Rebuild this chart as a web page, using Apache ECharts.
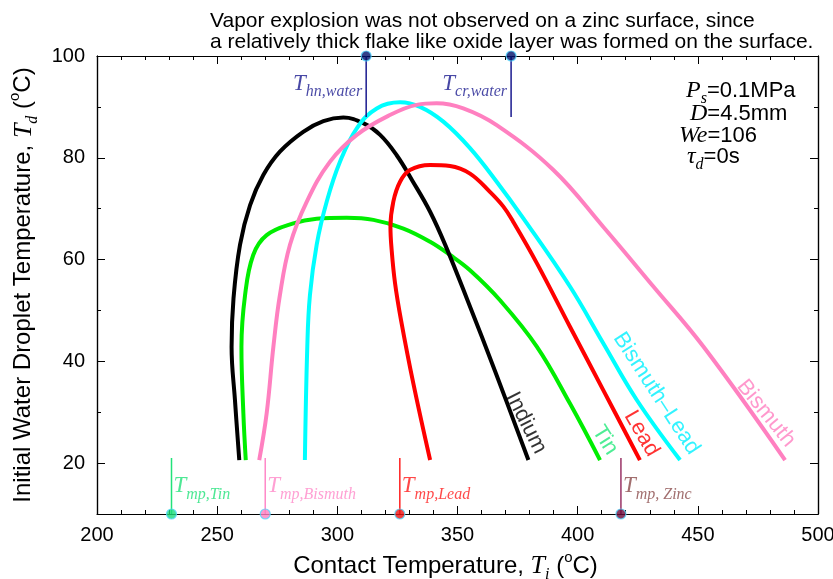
<!DOCTYPE html>
<html>
<head>
<meta charset="utf-8">
<script src="https://cdn.jsdelivr.net/npm/echarts@6/dist/echarts.min.js"></script>
<style>html,body{margin:0;background:#fff}#chart{width:833px;height:579px}</style>
</head>
<body>
<div id="chart"></div>
<script>
const sans = 'Liberation Sans';
const serif = 'Liberation Serif';

// curves: contact temperature (x) vs initial droplet temperature (y)
const indiumT = [259.2, 257.4, 256.0, 256.8, 259.5, 263.7, 269.2, 276.1, 285.8, 294.2, 302.5, 310.8, 317.8, 324.7, 331.1, 338.6, 345.5, 354.0, 366.0, 379.5];
const indiumD = [20.6, 32.4, 42.8, 52.4, 62.9, 70.7, 76.6, 81.2, 85.1, 87.2, 87.9, 86.8, 84.5, 80.5, 75.6, 69.4, 62.2, 52.2, 37.6, 20.6];
const tinT = [261.9, 260.9, 260.1, 261.6, 265.0, 270.6, 281.7, 291.4, 303.9, 315.0, 327.5, 338.6, 346.9, 355.2, 367.7, 383.0, 396.8, 409.3];
const tinD = [20.6, 29.8, 42.8, 53.0, 60.9, 64.8, 67.1, 68.0, 68.2, 67.8, 66.1, 63.5, 60.9, 57.9, 52.0, 42.9, 31.7, 20.6];
const leadT = [338.6, 331.6, 326.5, 324.0, 322.6, 322.1, 323.3, 326.1, 330.2, 338.6, 346.9, 355.2, 363.5, 369.1, 373.2, 383.0, 396.8, 410.7, 425.9];
const leadD = [20.6, 35.7, 48.1, 55.4, 61.9, 66.4, 71.4, 75.3, 77.6, 78.6, 78.4, 76.9, 73.3, 70.4, 67.4, 59.3, 46.8, 34.3, 20.6];
const biLeadT = [286.5, 287.5, 288.6, 291.4, 295.6, 301.1, 308.1, 316.4, 326.1, 334.4, 344.1, 355.2, 366.3, 377.4, 396.8, 410.7, 424.6, 442.6];
const biLeadD = [20.6, 42.9, 53.0, 62.9, 71.4, 79.2, 85.8, 89.7, 90.9, 90.0, 87.1, 81.9, 75.3, 68.1, 54.7, 43.5, 32.4, 20.6];
const bismuthT = [267.5, 270.6, 273.4, 276.1, 280.3, 287.3, 296.9, 308.1, 321.9, 333.0, 341.3, 352.4, 366.3, 389.9, 410.7, 431.5, 452.3, 486.3];
const bismuthD = [20.6, 29.8, 42.9, 53.0, 62.9, 71.4, 79.2, 84.5, 88.4, 90.4, 90.7, 89.7, 86.4, 77.6, 66.4, 54.7, 42.9, 20.6];

// curve name labels (position in data coords, angle)
const curveNames = ['Indium', 'Tin', 'Lead', 'Bismuth\u2013Lead', 'Bismuth'];
const curveColors = ['#000000', '#00ee00', '#ff0000', '#00ffff', '#ff80c0'];
const nameColors = ['#000000', '#22e87a', '#ff0000', '#00f0ff', '#ff80c0'];
const nameT = [378.5, 411.4, 426.6, 432.8, 478.4];
const nameD = [27.9, 24.5, 25.8, 33.7, 29.8];
const nameRot = [-63, -58, -60, -57, -51];

// melting points at the bottom
const meltSubs = ['mp,Tin', 'mp,Bismuth', 'mp,Lead', 'mp, Zinc'];
const meltTemps = [231, 270, 326, 418];
const meltLineColors = ['#22e27a', '#ff88c8', '#ff2020', '#993366'];
const meltTextColors = ['#22e27a', '#ff88c8', '#ff1a1a', '#8a4a4a'];
const meltDotColors = ['#1ddc7a', '#ff80c0', '#ee1111', '#6a0a3a'];
const meltTop = 21;
const meltLabelD = 15;

// water temperatures at the top
const waterSubs = ['hn,water', 'cr,water'];
const waterTemps = [312, 372.3];
const waterBottom = 88;
const waterLabelD = 94.1;
const waterColor = '#1a1a8f';

const yMajor = [20, 40, 60, 80, 100];
const yMinor = [30, 50, 70, 90];

function symRich(color, size, subSize, drop) {
    return {
        T: {fontFamily: serif, fontStyle: 'italic', fontSize: size, color: color, verticalAlign: 'top'},
        s: {fontFamily: serif, fontStyle: 'italic', fontSize: subSize, color: color, verticalAlign: 'top', padding: [drop, 0, 0, 0]}
    };
}

const nameRich = {
    n: {fontFamily: sans, fontSize: 24, color: '#000', verticalAlign: 'top', padding: [4, 0, 0, 0]},
    i: {fontFamily: serif, fontStyle: 'italic', fontSize: 26, color: '#000', verticalAlign: 'top', padding: [3, 0, 0, 0]},
    s: {fontFamily: serif, fontStyle: 'italic', fontSize: 16, color: '#000', verticalAlign: 'top', padding: [17, 0, 0, 0]},
    o: {fontFamily: sans, fontSize: 15, color: '#000', verticalAlign: 'top', padding: [0, 0, 0, 0]}
};

function zip(a, b) {
    return a.map((v, i) => [v, b[i]]);
}

function curve(name, xs, ys, color) {
    return {
        name: name,
        type: 'line',
        data: zip(xs, ys),
        smooth: 0.4,
        showSymbol: false,
        symbol: 'none',
        lineStyle: {color: color, width: 4},
        z: 3
    };
}

const series = [
    curve('Tin', tinT, tinD, curveColors[1]),
    curve('Indium', indiumT, indiumD, curveColors[0]),
    curve('Lead', leadT, leadD, curveColors[2]),
    curve('Bismuth-Lead', biLeadT, biLeadD, curveColors[3]),
    curve('Bismuth', bismuthT, bismuthD, curveColors[4])
];

// curve name labels
series.push({
    type: 'scatter',
    symbolSize: 0,
    silent: true,
    data: curveNames.map((n, i) => ({
        value: [nameT[i], nameD[i]],
        label: {
            show: true,
            position: 'inside',
            formatter: n,
            rotate: nameRot[i],
            color: nameColors[i],
            fontFamily: sans,
            fontSize: 22
        }
    })),
    z: 5
});

// melting point markers
meltTemps.forEach((t, i) => {
    series.push({
        type: 'line',
        data: [[t, 10], [t, meltTop]],
        symbol: 'none',
        lineStyle: {color: meltLineColors[i], width: 1.5},
        z: 4
    });
});
series.push({
    type: 'scatter',
    symbolSize: 0,
    silent: true,
    data: meltTemps.map((t, i) => ({
        value: [t, meltLabelD],
        label: {
            show: true,
            position: 'right',
            distance: 2,
            formatter: '{T|T}{s|' + meltSubs[i] + '}',
            rich: symRich(meltTextColors[i], 23, 16, 12)
        }
    })),
    z: 5
});
series.push({
    type: 'scatter',
    symbolSize: 10,
    clip: false,
    data: meltTemps.map((t, i) => ({
        value: [t, 10],
        itemStyle: {color: meltDotColors[i], borderColor: '#55d8ff', borderWidth: 1.2}
    })),
    z: 10
});

// water temperature markers
waterTemps.forEach((t) => {
    series.push({
        type: 'line',
        data: [[t, 100], [t, waterBottom]],
        symbol: 'none',
        lineStyle: {color: waterColor, width: 1.5},
        z: 4
    });
});
series.push({
    type: 'scatter',
    symbolSize: 0,
    silent: true,
    data: waterTemps.map((t, i) => ({
        value: [t, waterLabelD],
        label: {
            show: true,
            position: 'left',
            distance: 4,
            formatter: '{T|T}{s|' + waterSubs[i] + '}',
            rich: symRich(waterColor, 23, 16, 12)
        }
    })),
    z: 5
});
series.push({
    type: 'scatter',
    symbolSize: 10,
    clip: false,
    data: waterTemps.map((t) => ({
        value: [t, 100],
        itemStyle: {color: '#00106a', borderColor: '#55d8ff', borderWidth: 1.2}
    })),
    z: 10
});

const axisLine = {show: true, lineStyle: {color: '#000', width: 1.2}};

function xAxis(pos, showLabel) {
    return {
        type: 'value',
        position: pos,
        min: 200,
        max: 500,
        interval: 50,
        axisLine: axisLine,
        axisTick: {inside: true, length: 8, lineStyle: {color: '#000'}},
        minorTick: {show: true, splitNumber: 5, length: 4, lineStyle: {color: '#000'}},
        axisLabel: {show: showLabel, fontFamily: sans, fontSize: 20, color: '#000', margin: 11},
        splitLine: {show: false},
        minorSplitLine: {show: false}
    };
}

function yAxis(pos, ticks, len, showLabel) {
    return {
        type: 'value',
        position: pos,
        min: 10,
        max: 100,
        axisLine: axisLine,
        axisTick: {inside: true, length: len, customValues: ticks, lineStyle: {color: '#000'}},
        axisLabel: {show: showLabel, customValues: yMajor, fontFamily: sans, fontSize: 20, color: '#000', margin: 12},
        splitLine: {show: false}
    };
}

const xMain = xAxis('bottom', true);
xMain.name = '{n|Contact Temperature, }{i|T}{s|i}{n| (}{o|o}{n|C)}';
xMain.nameLocation = 'middle';
xMain.nameGap = 31;
xMain.nameTextStyle = {rich: nameRich, padding: [0, 24, 0, 0]};

const yMain = yAxis('left', yMajor, 8, true);
yMain.name = '{n|Initial Water Droplet Temperature, }{i|T}{s|d}{n| (}{o|o}{n|C)}';
yMain.nameLocation = 'middle';
yMain.nameGap = 47;
yMain.nameTextStyle = {rich: nameRich};

const chart = echarts.init(document.getElementById('chart'));

chart.setOption({
    backgroundColor: '#fff',
    animation: false,
    title: {
        text: 'Vapor explosion was not observed on a zinc surface, since\na relatively thick flake like oxide layer was formed on the surface.',
        left: 205,
        top: 6,
        textStyle: {fontFamily: sans, fontSize: 21, fontWeight: 'normal', color: '#000', lineHeight: 21}
    },
    grid: {left: 97, right: 15, top: 56, bottom: 65, containLabel: false, outerBoundsMode: 'none'},
    xAxis: [xMain, xAxis('top', false)],
    yAxis: [
        yMain,
        yAxis('left', yMinor, 4, false),
        yAxis('right', yMajor, 8, false),
        yAxis('right', yMinor, 4, false)
    ],
    graphic: [
        {type: 'text', left: 686, top: 79, style: {
            text: '{v|P}{s|s}{n|=0.1MPa}',
            rich: {
                v: {fontFamily: serif, fontStyle: 'italic', fontSize: 24, verticalAlign: 'top'},
                s: {fontFamily: serif, fontStyle: 'italic', fontSize: 16, verticalAlign: 'top', padding: [12, 0, 0, 0]},
                n: {fontFamily: sans, fontSize: 22, verticalAlign: 'top', padding: [1, 0, 0, 0]}
            }
        }},
        {type: 'text', left: 690, top: 102, style: {
            text: '{v|D}{n|=4.5mm}',
            rich: {
                v: {fontFamily: serif, fontStyle: 'italic', fontSize: 24, verticalAlign: 'top'},
                n: {fontFamily: sans, fontSize: 22, verticalAlign: 'top', padding: [1, 0, 0, 0]}
            }
        }},
        {type: 'text', left: 679, top: 124, style: {
            text: '{v|We}{n|=106}',
            rich: {
                v: {fontFamily: serif, fontStyle: 'italic', fontSize: 24, verticalAlign: 'top'},
                n: {fontFamily: sans, fontSize: 22, verticalAlign: 'top', padding: [1, 0, 0, 0]}
            }
        }},
        {type: 'text', left: 687, top: 145, style: {
            text: '{v|\u03c4}{s|d}{n|=0s}',
            rich: {
                v: {fontFamily: serif, fontStyle: 'italic', fontSize: 24, verticalAlign: 'top'},
                s: {fontFamily: serif, fontStyle: 'italic', fontSize: 16, verticalAlign: 'top', padding: [12, 0, 0, 0]},
                n: {fontFamily: sans, fontSize: 22, verticalAlign: 'top', padding: [1, 0, 0, 0]}
            }
        }}
    ],
    series: series
});
</script>
</body>
</html>
